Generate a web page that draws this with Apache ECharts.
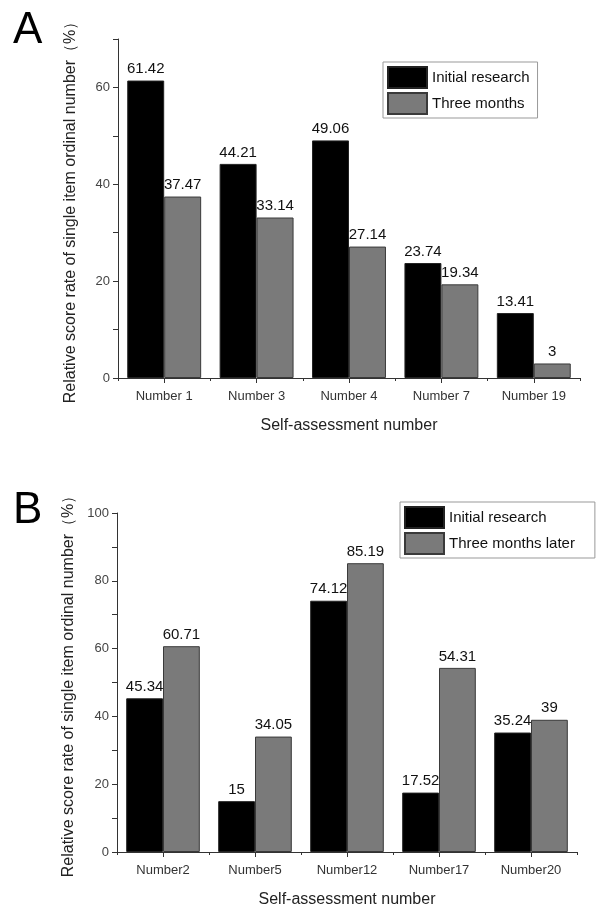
<!DOCTYPE html>
<html>
<head>
<meta charset="utf-8">
<script src="https://cdn.jsdelivr.net/npm/echarts@6/dist/echarts.min.js"></script>
<style>
  html, body { margin: 0; padding: 0; background: #fff; }
  #chart { width: 606px; height: 905px; }
</style>
</head>
<body>
<div id="chart"></div>
<script>
// panel A
var catsA = ["Number 1", "Number 3", "Number 4", "Number 7", "Number 19"];
var initialA = [61.42, 44.21, 49.06, 23.74, 13.41];
var threeA = [37.47, 33.14, 27.14, 19.34, 3];
// panel B
var catsB = ["Number2", "Number5", "Number12", "Number17", "Number20"];
var initialB = [45.34, 15, 74.12, 17.52, 35.24];
var threeB = [60.71, 34.05, 85.19, 54.31, 39];

var yName = "Relative score rate of single item ordinal number\uFF08%\uFF09";
var font = "Liberation Sans, Arial, sans-serif";

var chart = echarts.init(document.getElementById("chart"));

function yAxis(grid, max, show) {
  return {
    type: "value",
    gridIndex: grid,
    min: 0,
    max: max,
    interval: 10,
    show: show,
    name: yName,
    nameLocation: "middle",
    nameGap: 39,
    nameTextStyle: { color: "#222", fontSize: 16, fontFamily: font },
    axisLine: { show: true, lineStyle: { color: "#333", width: 1 } },
    axisTick: { show: true, length: 5, lineStyle: { color: "#333" } },
    axisLabel: {
      color: "#444", fontSize: 13, fontFamily: font, margin: 8,
      formatter: function (v) { return v % 20 === 0 ? v : ""; }
    },
    splitLine: { show: false }
  };
}

// main axis: labels + centre ticks; helper axis: small ticks at category borders
function xAxis(grid, cats, main) {
  return {
    type: "category",
    gridIndex: grid,
    data: cats,
    name: main ? "Self-assessment number" : "",
    nameLocation: "middle",
    nameGap: 40,
    nameTextStyle: { color: "#222", fontSize: 16, fontFamily: font },
    axisLine: { show: main, lineStyle: { color: "#333", width: 1 } },
    axisTick: { show: true, alignWithLabel: main, length: main ? 5 : 3, lineStyle: { color: "#333" } },
    axisLabel: { show: main, color: "#333", fontSize: 13, fontFamily: font, margin: 12 },
    splitLine: { show: false }
  };
}

function bar(name, data, xi, color, border) {
  return {
    name: name,
    type: "bar",
    xAxisIndex: xi,
    yAxisIndex: xi,
    data: data,
    barGap: "0%",
    barCategoryGap: "20%",
    itemStyle: { color: color, borderColor: border, borderWidth: 1 },
    label: {
      show: true, position: "top", distance: 4,
      color: "#111", fontSize: 15, fontFamily: font
    }
  };
}

var gridA = { left: 118, right: 26, top: 39, bottom: 527, outerBoundsMode: "none" };
var gridB = { left: 117, right: 29, top: 513, bottom: 53, outerBoundsMode: "none" };

var legendBase = {
  orient: "vertical",
  icon: "rect",
  itemWidth: 39, itemHeight: 21, itemGap: 3,
  borderColor: "#999", borderWidth: 1,
  textStyle: { fontSize: 15, color: "#111", fontFamily: font }
};

var option = {
  backgroundColor: "#fff",
  animation: false,
  title: [
    { text: "A", left: 8, top: 4, textStyle: { fontSize: 44, fontWeight: "normal", color: "#000", fontFamily: font } },
    { text: "B", left: 8, top: 484, textStyle: { fontSize: 44, fontWeight: "normal", color: "#000", fontFamily: font } }
  ],
  legend: [
    Object.assign({}, legendBase, {
      data: ["Initial research", "Three months"],
      left: 383, top: 62,
      padding: [4, 8, 3, 4]
    }),
    Object.assign({}, legendBase, {
      data: ["Initial research", "Three months later"],
      left: 400, top: 502,
      padding: [4, 20, 3, 4]
    })
  ],
  grid: [gridA, gridB, gridA, gridB],
  xAxis: [xAxis(0, catsA, true), xAxis(1, catsB, true), xAxis(2, catsA, false), xAxis(3, catsB, false)],
  yAxis: [yAxis(0, 70, true), yAxis(1, 100, true), yAxis(2, 70, false), yAxis(3, 100, false)],
  series: [
    bar("Initial research", initialA, 0, "#000", "#222"),
    bar("Three months", threeA, 0, "#7a7a7a", "#3a3a3a"),
    bar("Initial research", initialB, 1, "#000", "#222"),
    bar("Three months later", threeB, 1, "#7a7a7a", "#3a3a3a")
  ]
};

chart.setOption(option);
</script>
</body>
</html>
